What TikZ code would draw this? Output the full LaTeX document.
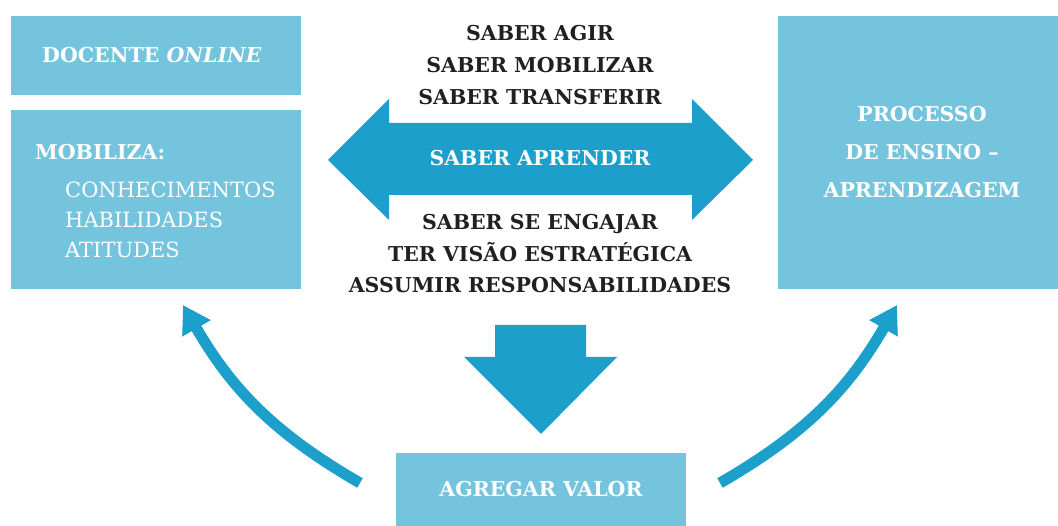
\documentclass[tikz,border=0pt]{standalone}
\usepackage{fontspec}
\setmainfont{DejaVu Serif}
\usetikzlibrary{arrows.meta}
\usetikzlibrary{positioning}
\definecolor{boxblue}{RGB}{116,196,222}
\definecolor{arrowblue}{RGB}{28,160,203}
\definecolor{txtdark}{RGB}{35,31,32}
\tikzset{
  box/.style={rectangle,fill=boxblue,draw=none,inner sep=0pt},
  hd/.style={font=\fontsize{20.5}{32}\selectfont\bfseries,text=white,align=center,inner sep=0pt},
  dk/.style={font=\fontsize{20.5}{32}\selectfont\bfseries,text=txtdark,align=center,inner sep=0pt},
  curvearrow/.style={draw=arrowblue,line width=11pt,-{Triangle[length=27pt,width=31pt]}}
}

\begin{document}
\begin{tikzpicture}[x=1pt,y=1pt]
\useasboundingbox (0,0) rectangle (1058,526);
% boxes
\node[box,minimum width=290pt,minimum height=79pt] (docente) at (156,470.5) {};
\node[box,minimum width=290pt,minimum height=179pt] (mobiliza) at (156,326.5) {};
\node[box,minimum width=280pt,minimum height=273pt] (processo) at (918,373.5) {};
\node[box,minimum width=290pt,minimum height=73pt] (valor) at (541,36.5) {};

\node[hd] (docentetxt) at (152,471) {DOCENTE \textit{ONLINE}};
\node[hd,anchor=west] (mobtxt) at (35,374) {MOBILIZA:};
\node[font=\fontsize{21}{30}\selectfont,text=white,align=left,anchor=north west,inner sep=0pt] (listtxt) at (65,344) {CONHECIMENTOS\\HABILIDADES\\ATITUDES};
\node[hd,font=\fontsize{20.5}{38}\selectfont\bfseries] (processotxt) at (922,374) {PROCESSO\\DE ENSINO --\\APRENDIZAGEM};
\node[hd] (valortxt) at (valor) {AGREGAR VALOR};

% double arrow
\fill[arrowblue] (328,366) -- (389,427) -- (389,403) -- (692,403) -- (692,427) -- (753,366)
  -- (692,306) -- (692,331) -- (389,331) -- (389,306) -- cycle;
\node[hd] (aprender) at (540,368) {SABER APRENDER};
\node[dk] (topsaber) at (540,460.5) {SABER AGIR\\SABER MOBILIZAR\\SABER TRANSFERIR};
\node[dk,font=\fontsize{20.5}{31.5}\selectfont\bfseries] (botsaber) at (540,272) {SABER SE ENGAJAR\\TER VIS\~AO ESTRAT\'EGICA\\ASSUMIR RESPONSABILIDADES};

% down arrow
\fill[arrowblue] (495,201) -- (586,201) -- (586,169) -- (617,169) -- (541,92)
  -- (464,169) -- (495,169) -- cycle;

% curved arrows
\coordinate (ltail) at (360,43);
\coordinate (ltip) at (183,221);
\coordinate (rtail) at (720,43);
\coordinate (rtip) at (897,221);
\draw[curvearrow] (ltail) to[out=150,in=-60] (ltip);
\draw[curvearrow] (rtail) to[out=30,in=-120] (rtip);

\end{tikzpicture}
\end{document}
